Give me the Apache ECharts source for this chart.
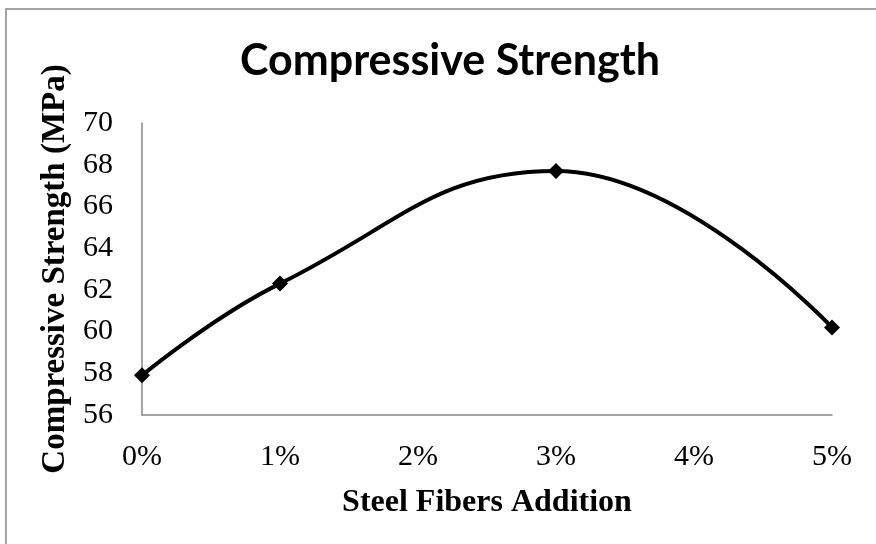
<!DOCTYPE html>
<html>
<head>
<meta charset="utf-8">
<script src="https://cdn.jsdelivr.net/npm/echarts@6/dist/echarts.min.js"></script>
<style>
  html, body { margin: 0; padding: 0; background: #fff; }
  #chart { width: 876px; height: 544px; }
</style>
</head>
<body>
<div id="chart"></div>
<script>
// Steel fiber dosage (% by volume) and measured compressive strength (MPa)
const fiberPercent = [0, 1, 3, 5];
const strengthMPa = [57.9, 62.3, 67.7, 60.2];

const chartTitle = 'Compressive Strength';
const xAxisTitle = 'Steel Fibers Addition';
const yAxisTitle = 'Compressive Strength (MPa)';

const chart = echarts.init(document.getElementById('chart'), null, { renderer: 'canvas' });

const axisGray = '#868686';
const serif = '"Liberation Serif", "Times New Roman", serif';

chart.setOption({
  backgroundColor: '#ffffff',
  animation: false,
  graphic: [{
    type: 'rect',
    shape: { x: 6, y: 9, width: 900, height: 560 },
    style: { fill: 'none', stroke: axisGray, lineWidth: 1.5 },
    silent: true
  }],
  title: {
    text: chartTitle,
    left: 445,
    top: 35,
    textAlign: 'center',
    textStyle: { fontFamily: 'Lato, "Open Sans", sans-serif', fontWeight: 'bold', fontSize: 43, color: '#000' }
  },
  grid: { left: 142, right: 44, top: 123, bottom: 129, containLabel: false },
  xAxis: {
    type: 'value',
    min: 0,
    max: 5,
    interval: 1,
    name: xAxisTitle,
    nameLocation: 'middle',
    nameGap: 72,
    nameTextStyle: { fontFamily: serif, fontWeight: 'bold', fontSize: 32, color: '#000' },
    axisLine: { show: true, lineStyle: { color: axisGray, width: 1.5 } },
    axisTick: { show: false },
    splitLine: { show: false },
    axisLabel: { formatter: '{value}%', fontFamily: serif, fontSize: 30, color: '#000', margin: 27 }
  },
  yAxis: {
    type: 'value',
    min: 56,
    max: 70,
    interval: 2,
    name: yAxisTitle,
    nameLocation: 'middle',
    nameGap: 68,
    nameTextStyle: { fontFamily: serif, fontWeight: 'bold', fontSize: 33, color: '#000' },
    axisLine: { show: true, lineStyle: { color: axisGray, width: 1.5 } },
    axisTick: { show: false },
    splitLine: { show: false },
    axisLabel: { fontFamily: serif, fontSize: 30, color: '#000', margin: 29 }
  },
  series: [{
    type: 'line',
    data: fiberPercent.map((p, i) => [p, strengthMPa[i]]),
    smooth: 0.45,
    symbol: 'diamond',
    symbolSize: 16,
    itemStyle: { color: '#000' },
    lineStyle: { color: '#000', width: 4 }
  }]
});
</script>
</body>
</html>
